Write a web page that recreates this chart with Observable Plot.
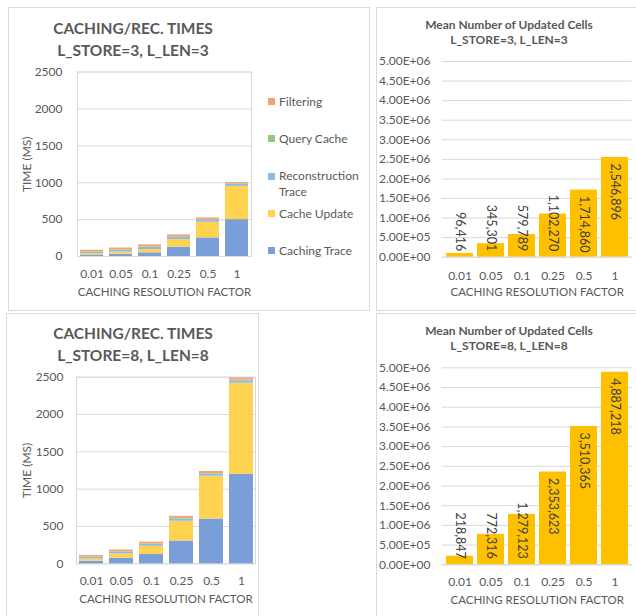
<!DOCTYPE html>
<html><head><meta charset="utf-8">
<script src="https://cdn.jsdelivr.net/npm/d3@7"></script>
<script src="https://cdn.jsdelivr.net/npm/@observablehq/plot@0.6"></script>
<style>
body{margin:0;background:#fff;font-family:Lato,"Open Sans",sans-serif;color:#595959}
#root{position:relative;width:636px;height:616px;overflow:hidden;background:#fff}
.panel{position:absolute;border:1px solid #d9d9d9;box-sizing:border-box}
.abs{position:absolute}
.t1{font-weight:700;font-size:15.5px;line-height:22px;text-align:center;color:#595959}
.t2{font-weight:700;font-size:12px;line-height:15px;text-align:center;color:#595959}
.leg{position:absolute;font-size:12px;line-height:15.7px;width:88px;color:#595959}
.sw{position:absolute;width:7px;height:7px}
</style></head><body><div id="root"></div>
<script>
// ---------- data ----------
const factors = ["0.01", "0.05", "0.1", "0.25", "0.5", "1"];
const seriesNames = ["Caching Trace", "Cache Update", "Reconstruction Trace", "Query Cache", "Filtering"];
const seriesColors = ["#7a9fd8", "#ffd34f", "#8dbbe3", "#95c57e", "#f2a474"];

// L_STORE=3, L_LEN=3 (ms)
const cachingTrace3 = [20, 30, 50, 126, 252, 500];
const cacheUpdate3  = [20, 30, 45, 104, 211, 450];
const reconTrace3   = [20, 25, 28, 31, 30, 30];
const queryCache3   = [5, 5, 7, 5, 5, 5];
const filtering3    = [20, 25, 28, 27, 24, 18];

// L_STORE=8, L_LEN=8 (ms)
const cachingTrace8 = [35, 75, 125, 305, 600, 1200];
const cacheUpdate8  = [30, 57, 110, 265, 574, 1220];
const reconTrace8   = [20, 25, 25, 32, 30, 32];
const queryCache8   = [5, 5, 5, 6, 5, 8];
const filtering8    = [22, 22, 25, 28, 28, 28];

// mean number of updated cells
const cells3 = [96416, 345301, 579789, 1102270, 1714860, 2546896];
const cells8 = [218847, 772316, 1279123, 2353623, 3510365, 4887218];

const timeTicks = [0, 500, 1000, 1500, 2000, 2500];
const cellTicks = [0, 500000, 1000000, 1500000, 2000000, 2500000, 3000000, 3500000, 4000000, 4500000, 5000000];
const labelInsideMin = 1500000; // labels of taller bars sit inside the bar end

const xTitle = "CACHING RESOLUTION FACTOR";
const yTitle = "TIME (MS)";

// ---------- helpers ----------
const root = document.getElementById("root");
function div(cls, style, html) {
  const d = document.createElement("div");
  if (cls) d.className = cls;
  Object.assign(d.style, style);
  if (html != null) d.innerHTML = html;
  root.appendChild(d);
  return d;
}
function place(svg, left, top) {
  const w = document.createElement("div");
  w.className = "abs";
  w.style.left = left + "px"; w.style.top = top + "px";
  w.appendChild(svg);
  root.appendChild(w);
}
const sci = d => {
  if (d === 0) return "0.00E+00";
  const e = Math.floor(Math.log10(d));
  return (d / Math.pow(10, e)).toFixed(2) + "E+" + String(e).padStart(2, "0");
};
const comma = d3.format(",");
const baseStyle = {fontFamily: "Lato, 'Open Sans', sans-serif", fontSize: "12px", color: "#595959", background: "transparent", overflow: "visible"};

function stackRows(seriesValues) {
  return seriesNames.flatMap((s, i) => factors.map((f, j) => ({factor: f, series: s, value: seriesValues[i][j]})));
}

function stackedChart(rows, o) {
  return Plot.plot({
    width: o.width, height: o.height,
    marginLeft: o.ml, marginRight: o.mr, marginTop: o.mt, marginBottom: o.mb,
    style: baseStyle,
    x: {domain: factors, paddingInner: 0.2, paddingOuter: 0.03},
    y: {domain: [0, 2500]},
    color: {domain: seriesNames, range: seriesColors},
    marks: [
      Plot.gridY(timeTicks, {stroke: "#d9d9d9", strokeOpacity: 1}),
      Plot.frame({stroke: "#d9d9d9"}),
      Plot.barY(rows, {x: "factor", y: "value", fill: "series"}),
      Plot.axisX({tickSize: 0, tickPadding: o.xPad, label: null}),
      Plot.axisY({ticks: timeTicks, tickFormat: d => String(d), tickSize: 0, tickPadding: o.yPad, label: null}),
      Plot.text([yTitle], {frameAnchor: "left", rotate: -90, dx: o.yTitleDx, textAnchor: "middle", lineAnchor: "middle", fill: "#595959", fontSize: 12}),
      Plot.text([xTitle], {frameAnchor: "bottom", dy: o.xTitleDy, textAnchor: "middle", lineAnchor: "middle", fill: "#595959", fontSize: 11.5})
    ]
  });
}

function cellsChart(values, o) {
  const rows = factors.map((f, i) => ({factor: f, value: values[i]}));
  return Plot.plot({
    width: o.width, height: o.height,
    marginLeft: o.ml, marginRight: o.mr, marginTop: o.mt, marginBottom: o.mb,
    style: baseStyle,
    x: {domain: factors, paddingInner: 0.13, paddingOuter: 0.07},
    y: {domain: [0, 5000000]},
    marks: [
      Plot.gridY(cellTicks, {stroke: "#d9d9d9", strokeOpacity: 1}),
      Plot.barY(rows, {x: "factor", y: "value", fill: "#ffc000"}),
      Plot.ruleY([0], {stroke: "#d9d9d9"}),
      Plot.axisX({tickSize: 0, tickPadding: o.xPad, label: null}),
      Plot.axisY({ticks: cellTicks, tickFormat: sci, tickSize: 0, tickPadding: o.yPad, label: null}),
      Plot.text(rows.filter(d => d.value >= labelInsideMin), {x: "factor", y: "value", text: d => comma(d.value), rotate: 90, textAnchor: "start", lineAnchor: "middle", dy: 6, fill: "#404040", fontSize: 12.5}),
      Plot.text(rows.filter(d => d.value < labelInsideMin), {x: "factor", y: () => 0, text: d => comma(d.value), rotate: 90, textAnchor: "end", lineAnchor: "middle", dy: -6, fill: "#404040", fontSize: 12.5}),
      Plot.text([xTitle], {frameAnchor: "bottom", dy: o.xTitleDy, textAnchor: "middle", lineAnchor: "middle", fill: "#595959", fontSize: 11.5})
    ]
  });
}

// ---------- panels ----------
div("panel", {left: "8px", top: "7px", width: "362px", height: "304px"});
div("panel", {left: "376px", top: "7px", width: "270px", height: "304px"});
div("panel", {left: "6px", top: "313px", width: "253px", height: "310px"});
div("panel", {left: "376px", top: "313px", width: "270px", height: "310px"});

// titles
div("abs t1", {left: "8px", top: "17px", width: "250px"}, "CACHING/REC. TIMES<br>L_STORE=3, L_LEN=3");
div("abs t1", {left: "8px", top: "322px", width: "250px"}, "CACHING/REC. TIMES<br>L_STORE=8, L_LEN=8");
div("abs t2", {left: "409px", top: "16.5px", width: "200px"}, "Mean Number of Updated Cells<br>L_STORE=3, L_LEN=3");
div("abs t2", {left: "409px", top: "323px", width: "200px"}, "Mean Number of Updated Cells<br>L_STORE=8, L_LEN=8");

// legend (top-left chart), top item first
const legendOrder = seriesNames.map((s, i) => ({name: s, color: seriesColors[i]})).reverse();
legendOrder.forEach((item, k) => {
  const cy = 101.7 + 37.25 * k;
  div("sw", {left: "268px", top: (cy - 3.5) + "px", background: item.color});
  div("leg", {left: "279px", top: (cy - 7.85) + "px"}, item.name);
});

// ---------- charts ----------
place(stackedChart(stackRows([cachingTrace3, cacheUpdate3, reconTrace3, queryCache3, filtering3]),
  {width: 260, height: 250, ml: 77, mr: 9, mt: 11.5, mb: 54, xPad: 13, yPad: 15, yTitleDx: -50, xTitleDy: 36}), 0, 60);

place(stackedChart(stackRows([cachingTrace8, cacheUpdate8, reconTrace8, queryCache8, filtering8]),
  {width: 258, height: 250, ml: 76, mr: 3, mt: 11.7, mb: 51.7, xPad: 12.5, yPad: 13, yTitleDx: -49, xTitleDy: 36}), 0, 365);

place(cellsChart(cells3, {width: 260, height: 260, ml: 65.7, mr: 4.3, mt: 11, mb: 53.3, xPad: 14, yPad: 11.7, xTitleDy: 35.3}), 376, 50);

place(cellsChart(cells8, {width: 260, height: 260, ml: 65.7, mr: 4.3, mt: 12.3, mb: 50.7, xPad: 13, yPad: 11.7, xTitleDy: 35.7}), 376, 355);
</script></body></html>
